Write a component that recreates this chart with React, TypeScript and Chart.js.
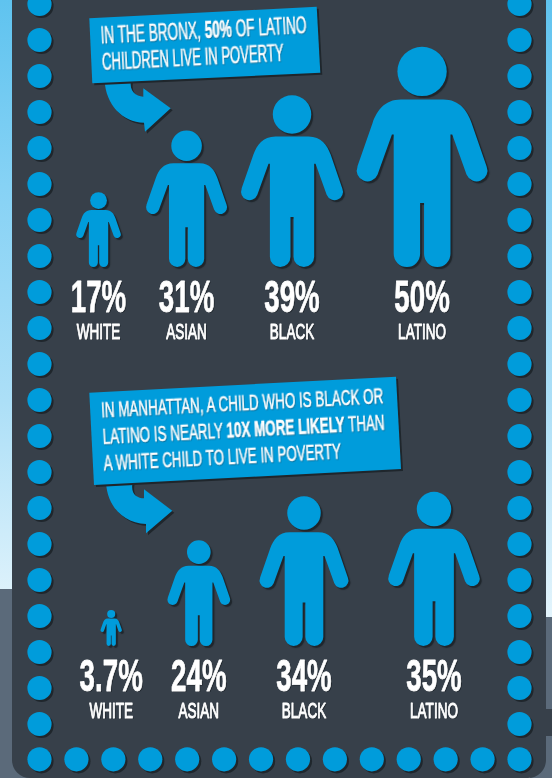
import React, { useEffect, useRef } from "react";
import { Chart, registerables } from "chart.js";

Chart.register(...registerables);

// ---- data ----
const categories = ["WHITE", "ASIAN", "BLACK", "LATINO"];
const bronxValues = [17, 31, 39, 50];
const manhattanValues = [3.7, 24, 34, 35];

// ---- style ----
const BLUE = "#009cdb";
const PANEL = "#37404a";
const SHADOW = "#1f262c";
const FONT = '"Liberation Sans", Arial, sans-serif';
const dotRowsY = Array.from({ length: 21 }, (_, i) => 4 + 36 * i);
const dotColsX = Array.from({ length: 14 }, (_, i) => 39.5 + (480 / 13) * i);

function drawPerson(ctx: CanvasRenderingContext2D, cx: number, top: number, H: number) {
  const X = (v: number) => cx + v * H;
  const Y = (v: number) => top + v * H;
  const R = (v: number) => v * H;
  const rad = (d: number) => (d * Math.PI) / 180;
  ctx.save();
  ctx.fillStyle = BLUE;
  ctx.shadowColor = SHADOW;
  ctx.shadowOffsetX = 2;
  ctx.shadowOffsetY = 2;
  ctx.shadowBlur = 1;
  ctx.beginPath();
  ctx.arc(X(0), Y(0.111), R(0.112), 0, Math.PI * 2);
  ctx.fill();
  ctx.beginPath();
  ctx.moveTo(X(0), Y(0.239));
  ctx.lineTo(X(-0.096), Y(0.239));
  ctx.bezierCurveTo(X(-0.17), Y(0.239), X(-0.205), Y(0.29), X(-0.225), Y(0.345));
  ctx.lineTo(X(-0.294), Y(0.543));
  ctx.arc(X(-0.248), Y(0.562), R(0.049), rad(202.4), rad(22.4), true);
  ctx.lineTo(X(-0.137), Y(0.398));
  ctx.lineTo(X(-0.129), Y(0.398));
  ctx.lineTo(X(-0.129), Y(0.94));
  ctx.arc(X(-0.069), Y(0.94), R(0.06), Math.PI, 0, true);
  ctx.lineTo(X(-0.009), Y(0.709));
  ctx.lineTo(X(0.009), Y(0.709));
  ctx.lineTo(X(0.009), Y(0.94));
  ctx.arc(X(0.069), Y(0.94), R(0.06), Math.PI, 0, true);
  ctx.lineTo(X(0.129), Y(0.398));
  ctx.lineTo(X(0.137), Y(0.398));
  ctx.lineTo(X(0.2024), Y(0.581));
  ctx.arc(X(0.248), Y(0.562), R(0.049), rad(157.6), rad(-22.4), true);
  ctx.lineTo(X(0.225), Y(0.345));
  ctx.bezierCurveTo(X(0.205), Y(0.29), X(0.17), Y(0.239), X(0.096), Y(0.239));
  ctx.closePath();
  ctx.fill();
  ctx.restore();
}

function condensedText(
  ctx: CanvasRenderingContext2D,
  text: string,
  x: number,
  y: number,
  font: string,
  sx: number,
  thicken: number
) {
  ctx.save();
  ctx.translate(x, y);
  ctx.scale(sx, 1);
  ctx.font = font;
  ctx.textAlign = "center";
  ctx.textBaseline = "alphabetic";
  ctx.fillStyle = "#ffffff";
  ctx.strokeStyle = "#ffffff";
  ctx.lineWidth = thicken;
  ctx.lineJoin = "round";
  ctx.shadowColor = "rgba(20,26,32,0.7)";
  ctx.shadowOffsetX = 1;
  ctx.shadowOffsetY = 1;
  ctx.shadowBlur = 0;
  ctx.fillText(text, 0, 0);
  ctx.shadowColor = "transparent";
  ctx.strokeText(text, 0, 0);
  ctx.restore();
}

const peoplePlugin = {
  id: "people",
  afterDatasetsDraw(chart: any, _a: any, opts: any) {
    const ctx = chart.ctx as CanvasRenderingContext2D;
    const meta = chart.getDatasetMeta(0);
    const values = chart.data.datasets[0].data as number[];
    meta.data.forEach((bar: any, i: number) => {
      const cx = bar.x + opts.nudge[i];
      const H = Math.abs(bar.base - bar.y);
      drawPerson(ctx, cx, bar.y, H);
      condensedText(ctx, `${values[i]}%`, cx, bar.base + 45, `bold 44px ${FONT}`, 0.63, 0.8);
      condensedText(ctx, String(chart.data.labels[i]), cx, bar.base + 71.5, `21.5px ${FONT}`, 0.63, 1);
    });
  },
};

function useSection(
  ref: React.RefObject<HTMLCanvasElement | null>,
  values: number[],
  padding: { left: number; right: number; top: number; bottom: number },
  nudge: number[]
) {
  useEffect(() => {
    const chart = new Chart(ref.current as HTMLCanvasElement, {
      type: "bar",
      data: {
        labels: categories,
        datasets: [
          {
            data: values,
            backgroundColor: "rgba(0,0,0,0)",
            borderWidth: 0,
            minBarLength: 36,
          },
        ],
      },
      options: {
        animation: false,
        responsive: false,
        events: [],
        layout: { padding },
        scales: {
          x: { display: false, type: "category" },
          y: { display: false, min: 0, max: 60 },
        },
        plugins: {
          legend: { display: false },
          tooltip: { enabled: false },
          people: { nudge },
        } as any,
      },
      plugins: [peoplePlugin],
    } as any);
    return () => chart.destroy();
  }, []);
}

function Callout({
  poly,
  arrow,
  lines,
}: {
  poly: string;
  arrow: string;
  lines: { x: number; y: number; sx: number; size: number; parts: [string, boolean][] }[];
}) {
  return (
    <g>
      <path d={arrow} fill={BLUE} style={{ filter: `drop-shadow(2px 2px 0.5px ${SHADOW})` }} />
      <polygon points={poly} fill={BLUE} style={{ filter: `drop-shadow(2px 2px 0.5px ${SHADOW})` }} />
      {lines.map((l, i) => (
        <text
          key={i}
          transform={`translate(${l.x} ${l.y}) rotate(-2.9) scale(${l.sx} 1)`}
          fontFamily={FONT}
          fontSize={l.size}
          fill="#ffffff"
          stroke="#ffffff"
          strokeWidth={0.55}
          style={{ filter: "drop-shadow(1px 1px 0 #0a6f9c)", whiteSpace: "pre" }}
        >
          {l.parts.map(([t, b], j) => (
            <tspan key={j} fontWeight={b ? 700 : 400}>
              {t}
            </tspan>
          ))}
        </text>
      ))}
    </g>
  );
}

export default function App() {
  const topRef = useRef<HTMLCanvasElement>(null);
  const botRef = useRef<HTMLCanvasElement>(null);

  useSection(topRef, bronxValues, { left: 44.6, right: 76, top: 3, bottom: 83 }, [0, -19.8, -22.2, 0]);
  useSection(botRef, manhattanValues, { left: 57.4, right: 64.2, top: 12, bottom: 132 }, [0, -20, -22.4, 0]);

  useEffect(() => {
    document.body.style.margin = "0";
    document.body.style.overflow = "hidden";
  }, []);

  return (
    <div style={{ position: "fixed", left: 0, top: 0, width: 552, height: 778, overflow: "hidden" }}>
      <svg width={552} height={778} style={{ position: "absolute", left: 0, top: 0 }}>
        <defs>
          <linearGradient id="sky" x1="0" y1="0" x2="0" y2="1">
            <stop offset="0" stopColor="#5fc3ef" />
            <stop offset="0.3" stopColor="#86d2f5" />
            <stop offset="0.65" stopColor="#acdff7" />
            <stop offset="1" stopColor="#e3f4fc" />
          </linearGradient>
        </defs>
        <rect x={0} y={0} width={552} height={617} fill="url(#sky)" />
        <rect x={0} y={589} width={30} height={189} fill="#5b6a7a" />
        <rect x={530} y={617} width={22} height={161} fill="#5b6a7a" />
        <rect x={540} y={709} width={12} height={27} fill={PANEL} />
        <path d="M12,-10 H546 V760 A18,18 0 0 1 528,778 H30 A18,18 0 0 1 12,760 Z" fill={PANEL} />
        {dotRowsY.flatMap((y) => [39.5, 519.5].map((x) => (
          <circle key={`${x}-${y}`} cx={x} cy={y} r={12.1} fill={BLUE} style={{ filter: `drop-shadow(2px 2px 0.5px ${SHADOW})` }} />
        )))}
        {dotColsX.map((x) => (
          <circle key={x} cx={x} cy={759.3} r={12.1} fill={BLUE} style={{ filter: `drop-shadow(2px 2px 0.5px ${SHADOW})` }} />
        ))}
        <Callout
          poly="89.3,18.3 316.7,6.7 320.3,72.7 92.3,83.3"
          arrow="M104.5,80 C106,105 122,122 144,122.7 L145,131.7 L170.7,108.3 L143.3,88.3 L143.3,96.7 C136,96 129,92 131,80 Z"
          lines={[
            { x: 101, y: 43.5, sx: 0.568, size: 24, parts: [["IN THE BRONX, ", false], ["50%", true], [" OF LATINO", false]] },
            { x: 102.5, y: 70, sx: 0.546, size: 24, parts: [["CHILDREN LIVE IN POVERTY", false]] },
          ]}
        />
        <Callout
          poly="89.3,392.7 396,376.7 401,469 94,485"
          arrow="M106,482 C107,507 124,523 146,524 L146,533.3 L172.3,510.7 L144,489.3 L144,498.3 C137,498 130,494 132.7,482 Z"
          lines={[
            { x: 101.5, y: 417.5, sx: 0.598, size: 22.5, parts: [["IN MANHATTAN, A CHILD WHO IS BLACK OR", false]] },
            { x: 103, y: 444, sx: 0.598, size: 22.5, parts: [["LATINO IS NEARLY ", false], ["10X MORE LIKELY", true], [" THAN", false]] },
            { x: 104, y: 470.5, sx: 0.594, size: 22.5, parts: [["A WHITE CHILD TO LIVE IN POVERTY", false]] },
          ]}
        />
      </svg>
      <canvas ref={topRef} width={552} height={350} style={{ position: "absolute", left: 0, top: 0, display: "block" }} />
      <canvas ref={botRef} width={552} height={408} style={{ position: "absolute", left: 0, top: 370, display: "block" }} />
    </div>
  );
}
